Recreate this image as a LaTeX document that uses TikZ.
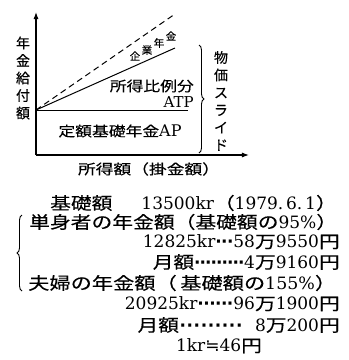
\documentclass[tikz,border=0pt]{standalone}
\usepackage{fontspec}
\usepackage{graphicx}
\setmainfont{DejaVu Serif}
\newfontfamily\cjk[FakeBold=0.25]{Noto Sans CJK JP}
\newfontfamily\sym{DejaVu Sans}
\usetikzlibrary{arrows.meta,decorations.pathreplacing}
\newcommand{\J}[1]{\scalebox{1.2}[1]{\cjk #1}}
\newcommand{\JT}[1]{\scalebox{1.22}[1]{\cjk #1}}
\newcommand{\ddt}[2]{\hbox to #1{\cleaders\hbox to #2{\hss{\sym\bfseries ·}\hss}\hfill}}
\newsavebox\fitbox
\newcommand{\fitw}[2]{\sbox\fitbox{#2}\scalebox{\fpeval{(#1)/(\the\wd\fitbox)}}[1]{\usebox\fitbox}}
\begin{document}
\begin{tikzpicture}[x=1pt,y=-1pt,
  ax/.style={line width=1.1pt,-{Latex[length=7pt,width=5pt]}},
  ln/.style={line width=1pt},
  gfont/.style={font=\fontsize{14}{17.5}\selectfont\cjk, inner sep=0pt},
  tfont/.style={font=\fontsize{17}{20}\selectfont, inner sep=0pt},
  small/.style={font=\fontsize{10.5}{12}\selectfont\cjk, inner sep=0pt},
  brc/.style={line width=0.9pt, decorate, decoration={brace, amplitude=5pt}}]
\useasboundingbox (0,0) rectangle (349,360);
% axes
\coordinate (top) at (36,12);
\coordinate (corner) at (36,155);
\coordinate (right) at (249,155);
\coordinate (O) at (36,110);
\coordinate (dashend) at (175,14);
\coordinate (solidend) at (175,48);
\coordinate (atpend) at (188,110);
\draw[ax] (corner) -- (top);
\draw[ax] (corner) -- (right);
\draw[ln, dash pattern=on 6pt off 4pt] (O) -- (dashend);
\draw[ln] (O) -- (solidend);
\draw[ln] (O) -- (atpend);
% right brace
\coordinate (b1) at (199,45);
\coordinate (b2) at (199,153);
\draw[brc] (b1) -- (b2);
% labels in graph
\node[gfont, align=center] (ylab) at (23,78) {年\\金\\給\\付\\額};
\node[gfont, align=center] (slide) at (221,101) {物\\価\\ス\\ラ\\イ\\ド};
\node[small] (k1) at (135,56) {企};
\node[small] (k2) at (147,50) {業};
\node[small] (k3) at (159,43) {年};
\node[small] (k4) at (171,36) {金};
\node[gfont, anchor=east] (hirei) at (194,86) {\J{所得比例分}};
\node[font=\fontsize{15}{17}\selectfont, inner sep=0pt, anchor=east] (atp) at (194,102) {ATP};
\node[gfont] (ap) at (120,131) {\J{定額基礎年金}{\rmfamily\fontsize{16}{17}\selectfont AP}};
\node[gfont] (xlab) at (149,169) {\fitw{142pt}{\cjk 所得額（掛金額）}};
% text block
\node[tfont, anchor=west] (t1a) at (50,203) {\JT{基礎額}};
\node[tfont, anchor=east] (t1b) at (337,203) {13500kr\JT{（}1979.\,6.\,1\JT{）}};
\node[tfont, anchor=west] (t2) at (29,222) {\fitw{308pt}{\JT{単身者の年金額（基礎額の}95\%\JT{）}}};
\node[tfont, anchor=east] (t3) at (340,242) {12825kr\ddt{18pt}{5.9pt}58\JT{万}9550\JT{円}};
\node[tfont, anchor=east] (t4) at (340,262) {\JT{月額}\ddt{50pt}{5.5pt}4\JT{万}9160\JT{円}};
\node[tfont, anchor=west] (t5) at (28,283) {\fitw{308pt}{\JT{夫婦の年金額（\,基礎額の}155\%\JT{）}}};
\node[tfont, anchor=east] (t6) at (340,304) {20925kr\ddt{36pt}{5.9pt}96\JT{万}1900\JT{円}};
\node[tfont, anchor=east] (t7) at (340,325) {\JT{月額}\ddt{64pt}{7.05pt}\hspace{12pt}8\JT{万}200\JT{円}};
\node[tfont] (t8) at (219,346) {1kr{\sym≒}46\JT{円}};
% left brace
\coordinate (l1) at (22,291);
\coordinate (l2) at (22,215);
\draw[brc] (l1) -- (l2);
\end{tikzpicture}
\end{document}
